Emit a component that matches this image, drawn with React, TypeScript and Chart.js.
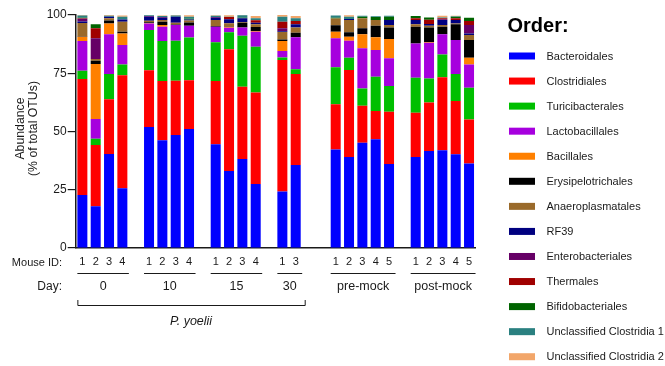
import React, { useEffect, useRef } from 'react';
import { Chart, registerables } from 'chart.js';

Chart.register(...registerables);

const _ = null;

// x slots (empty strings are spacer slots between groups)
const mouseIds = ['1', '2', '3', '4', '', '1', '2', '3', '4', '', '1', '2', '3', '4', '', '1', '3', '', '', '1', '2', '3', '4', '5', '', '1', '2', '3', '4', '5'];

const dayLabels = ['0', '10', '15', '30', 'pre-mock', 'post-mock'];
const dayFirstSlot = [0, 5, 10, 15, 19, 25];
const dayLastSlot = [3, 8, 13, 16, 23, 29];
const bracketLabel = 'P. yoelii';
const bracketGroups = [0, 3];

const yTicks = [0, 25, 50, 75, 100];

const orders = [
  'Bacteroidales', 'Clostridiales', 'Turicibacterales', 'Lactobacillales', 'Bacillales',
  'Erysipelotrichales', 'Anaeroplasmatales', 'RF39', 'Enterobacteriales', 'Thermales',
  'Bifidobacteriales', 'Unclassified Clostridia 1', 'Unclassified Clostridia 2',
];
const orderColors = [
  '#0000FF', '#FF0000', '#00BF00', '#A600DE', '#FF8000',
  '#000000', '#9A6A2A', '#000080', '#660066', '#A00000',
  '#006400', '#2A8080', '#F2A66A',
];

const bacteroidales = [22.7, 17.9, 40.3, 25.6, _, 51.9, 46.2, 48.5, 51.1, _, 44.5, 33.0, 38.2, 27.5, _, 24.2, 35.6, _, _, 42.3, 39.1, 45.2, 46.7, 36.0, _, 39.1, 41.6, 41.9, 40.2, 36.3];
const clostridiales = [49.8, 26.3, 23.5, 48.5, _, 24.4, 25.5, 23.3, 20.9, _, 27.2, 52.3, 31.0, 39.2, _, 56.5, 39.1, _, _, 19.4, 37.3, 15.9, 12.1, 22.5, _, 19.0, 20.8, 31.4, 22.9, 18.9];
const turicibacterales = [3.6, 2.7, 10.9, 4.7, _, 17.3, 17.1, 17.2, 18.3, _, 16.6, 7.3, 21.9, 19.7, _, 1.1, 2.0, _, _, 15.9, 5.3, 7.4, 14.7, 11.0, _, 15.0, 10.4, 9.8, 11.6, 13.6];
const lactobacillales = [12.7, 8.5, 17.0, 8.3, _, 2.8, 6.2, 6.7, 5.1, _, 6.7, 1.9, 3.5, 6.4, _, 2.7, 13.7, _, _, 12.4, 7.3, 17.2, 11.5, 11.9, _, 14.7, 15.3, 8.6, 14.6, 10.0];
const bacillales = [1.9, 23.6, 4.7, 5.0, _, 0.2, 0.7, 0, 0, _, 0, 0.3, 0, 0.3, _, 4.3, 0, _, _, 2.8, 1.7, 6.0, 5.4, 8.3, _, 0, 0.3, 0, 0, 2.9];
const erysipelotrichales = [0.2, 1.4, 1.2, 0.7, _, 0.3, 1.4, 0.2, 1.4, _, 0.3, 0.2, 2.1, 1.8, _, 0.7, 2.0, _, _, 2.8, 1.9, 2.6, 5.0, 4.9, _, 7.2, 6.2, 3.3, 6.7, 7.6];
const anaeroplasmatales = [5.7, 0.7, 1.0, 4.3, _, 0.6, 0.8, 0.8, 0.8, _, 2.6, 1.5, 0.3, 1.1, _, 3.2, 2.2, _, _, 2.9, 5.3, 4.3, 2.5, 1.1, _, 1.0, 0.8, 0.7, 0.4, 2.1];
const rf39 = [0.6, 0, 0.7, 1.0, _, 1.8, 0.9, 2.6, 0.5, _, 0.9, 1.7, 1.6, 0.7, _, 0.3, 1.4, _, _, 0, 0.4, 0, 0, 2.2, _, 1.9, 0.7, 2.2, 1.5, 0.7];
const enterobacteriales = [1.2, 8.9, 0, 0, _, 0.3, 0.3, 0, 0, _, 0.3, 0, 0, 0, _, 1.3, 0, _, _, 0, 0, 0, 0, 0, _, 0, 0, 0.3, 0, 3.6];
const thermales = [0.2, 4.3, 0, 0, _, 0, 0, 0, 0, _, 0, 0.9, 0, 1.0, _, 2.8, 1.4, _, _, 0, 0, 0, 0, 0, _, 0.7, 1.9, 0.4, 0.7, 1.7];
const bifidobacteriales = [0.2, 1.7, 0, 0, _, 0, 0, 0, 0.3, _, 0, 0, 0.2, 0, _, 0, 0, _, _, 0.3, 0, 0.7, 1.2, 1.3, _, 1.0, 0.9, 0, 0.6, 1.4];
const unclassifiedClostridia1 = [1.0, 0, 0.4, 1.1, _, 0.3, 0.5, 0.5, 0.9, _, 0.6, 0.2, 1.1, 0.9, _, 2.2, 1.2, _, _, 1.0, 0.9, 0.4, 0.4, 0.5, _, 0, 0, 0.3, 0.3, 0];
const unclassifiedClostridia2 = [0.3, 0, 0.3, 0.6, _, 0.1, 0.2, 0.2, 0.6, _, 0.2, 0.6, 0.1, 1.0, _, 0.7, 1.0, _, _, 0, 0.7, 0, 0, 0, _, 0, 0, 0.8, 0.2, 0];

const seriesValues = [
  bacteroidales, clostridiales, turicibacterales, lactobacillales, bacillales,
  erysipelotrichales, anaeroplasmatales, rf39, enterobacteriales, thermales,
  bifidobacteriales, unclassifiedClostridia1, unclassifiedClostridia2,
];

const FONT = '"Liberation Sans", Arial, Helvetica, sans-serif';
const INK = '#1a1a1a';

const annotations = {
  id: 'annotations',
  afterDraw(chart: any) {
    const { ctx } = chart;
    const x = chart.scales.x;
    const step = x.getPixelForValue(1) - x.getPixelForValue(0);
    const half = step * 0.375;
    ctx.save();
    ctx.fillStyle = INK;
    ctx.strokeStyle = INK;

    // y axis title
    ctx.save();
    ctx.translate(27.5, 128.5);
    ctx.rotate(-Math.PI / 2);
    ctx.font = `12.3px ${FONT}`;
    ctx.textAlign = 'center';
    ctx.textBaseline = 'middle';
    ctx.fillText('Abundance', 0, -7);
    ctx.fillText('(% of total OTUs)', 0, 6.5);
    ctx.restore();

    // row titles
    ctx.font = `11px ${FONT}`;
    ctx.textAlign = 'right';
    ctx.textBaseline = 'middle';
    ctx.fillText('Mouse ID:', 62, 262.5);
    ctx.font = `12px ${FONT}`;
    ctx.fillText('Day:', 62, 287);

    // group lines and day labels
    ctx.lineWidth = 1;
    ctx.textAlign = 'center';
    for (let g = 0; g < dayLabels.length; g++) {
      const l = x.getPixelForValue(dayFirstSlot[g]) - half;
      const r = x.getPixelForValue(dayLastSlot[g]) + half + 1.5;
      ctx.beginPath();
      ctx.moveTo(l, 273.5);
      ctx.lineTo(r, 273.5);
      ctx.stroke();
      ctx.font = `12.5px ${FONT}`;
      ctx.fillText(dayLabels[g], (l + r) / 2, 287);
    }

    // bracket
    const bl = x.getPixelForValue(dayFirstSlot[bracketGroups[0]]) - half;
    const br = x.getPixelForValue(dayLastSlot[bracketGroups[1]]) + half + 4;
    ctx.beginPath();
    ctx.moveTo(bl + 0.5, 300);
    ctx.lineTo(bl + 0.5, 305.5);
    ctx.lineTo(br + 0.5, 305.5);
    ctx.lineTo(br + 0.5, 300);
    ctx.stroke();
    ctx.font = `italic 12.5px ${FONT}`;
    ctx.fillText(bracketLabel, (bl + br) / 2, 322);

    // legend
    ctx.textAlign = 'left';
    ctx.textBaseline = 'alphabetic';
    ctx.font = `bold 20px ${FONT}`;
    ctx.fillStyle = '#000';
    ctx.fillText('Order:', 507.5, 31.5);
    ctx.font = `11px ${FONT}`;
    ctx.textBaseline = 'middle';
    for (let i = 0; i < orders.length; i++) {
      const cy = 56 + i * 25.06;
      ctx.fillStyle = orderColors[i];
      ctx.fillRect(509, cy - 3.5, 26, 7);
      ctx.fillStyle = INK;
      ctx.fillText(orders[i], 546.5, cy + 0.5);
    }
    ctx.restore();
  },
};

export default function App() {
  const ref = useRef<HTMLCanvasElement>(null);
  useEffect(() => {
    if (!ref.current) return;
    const chart = new Chart(ref.current, {
      type: 'bar',
      data: {
        labels: mouseIds,
        datasets: orders.map((name, i) => ({
          label: name,
          data: seriesValues[i],
          backgroundColor: orderColors[i],
          borderWidth: 0,
          barPercentage: 0.75,
          categoryPercentage: 1,
        })),
      },
      options: {
        responsive: false,
        animation: false,
        layout: { padding: { left: 0, right: 189.3, top: 15, bottom: 0 } },
        plugins: { legend: { display: false }, tooltip: { enabled: false } },
        scales: {
          x: {
            stacked: true,
            grid: { display: false, drawTicks: false },
            border: { display: true, color: INK, width: 1.5 },
            ticks: {
              autoSkip: false,
              maxRotation: 0,
              padding: 7.5,
              color: INK,
              font: { family: FONT, size: 11 },
            },
            afterFit(scale: any) { scale.height = 118; },
          },
          y: {
            stacked: true,
            min: 0,
            max: 100,
            afterBuildTicks(scale: any) { scale.ticks = yTicks.map((v) => ({ value: v })); },
            grid: { drawOnChartArea: false, drawTicks: true, tickLength: 8, color: INK, lineWidth: 1.2 },
            border: { display: true, color: INK, width: 1.5 },
            ticks: {
              padding: 1,
              color: INK,
              font: { family: FONT, size: 12 },
            },
            afterFit(scale: any) { scale.width = 75.7; },
          },
        },
      },
      plugins: [annotations],
    });
    return () => chart.destroy();
  }, []);
  return (
    <div style={{ position: 'absolute', left: 0, top: 0, width: 665, height: 366, background: '#fff' }}>
      <canvas ref={ref} width={665} height={366} />
    </div>
  );
}
